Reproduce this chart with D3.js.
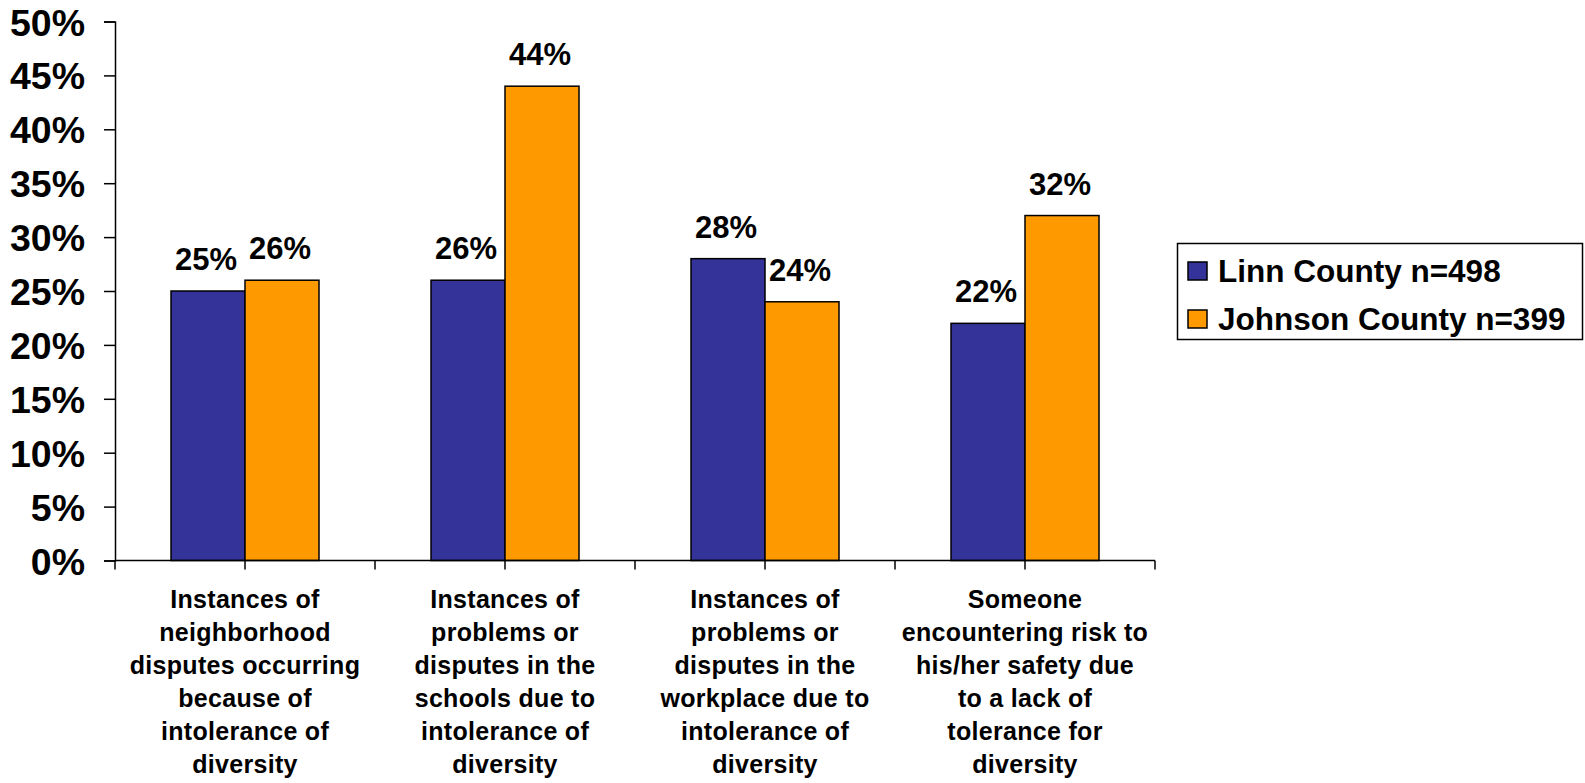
<!DOCTYPE html>
<html>
<head>
<meta charset="utf-8">
<script src="https://cdn.jsdelivr.net/npm/d3@7"></script>
<style>
  html, body { margin: 0; padding: 0; background: #fff; }
  svg { display: block; font-family: "Liberation Sans", Arial, sans-serif; font-weight: bold; }
</style>
</head>
<body>
<svg id="chart" width="1585" height="783"></svg>
<script>
// Survey categories (wrapped as in the printed report)
const categories = [
  ["Instances of", "neighborhood", "disputes occurring", "because of", "intolerance of", "diversity"],
  ["Instances of", "problems or", "disputes in the", "schools due to", "intolerance of", "diversity"],
  ["Instances of", "problems or", "disputes in the", "workplace due to", "intolerance of", "diversity"],
  ["Someone", "encountering risk to", "his/her safety due", "to a lack of", "tolerance for", "diversity"]
];
const seriesNames = ["Linn County n=498", "Johnson County n=399"];
const linnValues = [25, 26, 28, 22];
const johnsonValues = [26, 44, 24, 32];
const yTicks = [0, 5, 10, 15, 20, 25, 30, 35, 40, 45, 50];
const colors = ["#333399", "#FF9900"];

const svg = d3.select("#chart");
const plot = { left: 115, right: 1155, top: 21.5, bottom: 560.5 };

const catIds = categories.map((_, i) => i);
const x0 = d3.scaleBand().domain(catIds).range([plot.left, plot.right])
  .paddingInner(112 / 260).paddingOuter(56 / 260);
const x1 = d3.scaleBand().domain([0, 1]).range([0, x0.bandwidth()]);
const y = d3.scaleLinear().domain([0, 50]).range([plot.bottom, plot.top]);

const data = catIds.map(i => [linnValues[i], johnsonValues[i]]);

// Bars
const groups = svg.append("g").selectAll("g").data(data).join("g")
  .attr("transform", (d, i) => `translate(${x0(i)},0)`);
groups.selectAll("rect").data(d => d.map((v, s) => ({ v, s }))).join("rect")
  .attr("x", d => x1(d.s))
  .attr("y", d => y(d.v))
  .attr("width", x1.bandwidth())
  .attr("height", d => y(0) - y(d.v))
  .attr("fill", d => colors[d.s])
  .attr("stroke", "#000")
  .attr("stroke-width", 1.5);

// Value labels
groups.selectAll("text").data(d => d.map((v, s) => ({ v, s }))).join("text")
  .attr("x", d => x1(d.s) + x1.bandwidth() / 2 - 2)
  .attr("y", d => y(d.v) - 21)
  .attr("text-anchor", "middle")
  .attr("font-size", 31)
  .attr("fill", "#000")
  .text(d => d.v + "%");

// Y axis
const yAxis = d3.axisLeft(y).tickValues(yTicks).tickSize(11).tickPadding(19)
  .tickFormat(d => d + "%");
const yg = svg.append("g").attr("transform", `translate(${plot.left},0)`).call(yAxis);
yg.select(".domain").attr("stroke", "#000").attr("stroke-width", 1.5);
yg.selectAll(".tick line").attr("stroke", "#000").attr("stroke-width", 1.5);
yg.selectAll(".tick text")
  .attr("font-size", 37.5).attr("font-family", "Liberation Sans, Arial, sans-serif")
  .attr("font-weight", "bold").attr("fill", "#000").attr("dy", "0.36em");

// X axis: baseline with tick marks at group edges and centres
const xTickPos = d3.range(0, categories.length * 2 + 1).map(k => plot.left + k * x0.step() / 2);
const xg = svg.append("g");
xg.append("line")
  .attr("x1", plot.left).attr("x2", plot.right)
  .attr("y1", plot.bottom).attr("y2", plot.bottom)
  .attr("stroke", "#000").attr("stroke-width", 1.5);
xg.selectAll("line.tick").data(xTickPos).join("line").attr("class", "tick")
  .attr("x1", d => d).attr("x2", d => d)
  .attr("y1", plot.bottom).attr("y2", plot.bottom + 9)
  .attr("stroke", "#000").attr("stroke-width", 1.5);

// Category labels
const catLabels = svg.append("g").selectAll("text").data(categories).join("text")
  .attr("text-anchor", "middle")
  .attr("font-size", 25)
  .attr("letter-spacing", 0.3)
  .attr("fill", "#000")
  .attr("transform", (d, i) => `translate(${x0(i) + x0.bandwidth() / 2},0)`);
catLabels.selectAll("tspan").data(d => d).join("tspan")
  .attr("x", 0)
  .attr("y", (d, j) => 608 + j * 33)
  .text(d => d);

// Legend
const legend = svg.append("g");
legend.append("rect")
  .attr("x", 1177.5).attr("y", 243.5).attr("width", 405).attr("height", 96)
  .attr("fill", "#fff").attr("stroke", "#000").attr("stroke-width", 1.5);
const items = legend.selectAll("g").data(seriesNames).join("g")
  .attr("transform", (d, i) => `translate(1188,${262 + i * 48})`);
items.append("rect")
  .attr("width", 19).attr("height", 18)
  .attr("fill", (d, i) => colors[i]).attr("stroke", "#000").attr("stroke-width", 1.5);
items.append("text")
  .attr("x", 30).attr("y", 20)
  .attr("font-size", 31.5).attr("fill", "#000")
  .text(d => d);
</script>
</body>
</html>
